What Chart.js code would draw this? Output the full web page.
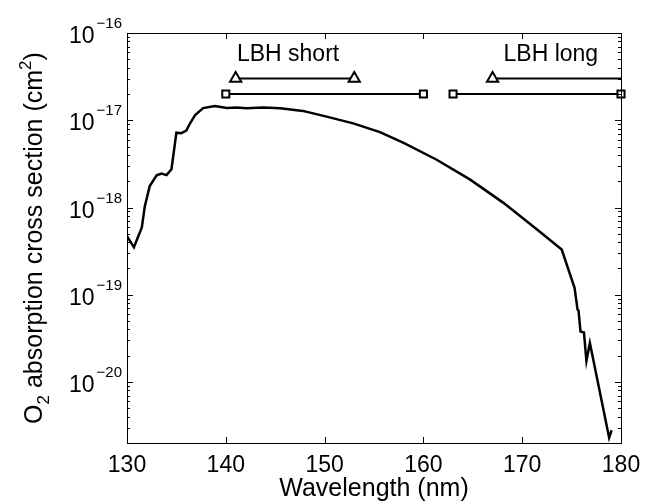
<!DOCTYPE html>
<html>
<head>
<meta charset="utf-8">
<script src="https://cdn.jsdelivr.net/npm/chart.js@4"></script>
<style>
  html, body { margin: 0; padding: 0; background: #fff; }
  canvas { display: block; }
</style>
</head>
<body>
<canvas id="o2Chart" width="655" height="502"></canvas>
<script>
// O2 absorption cross section
const wavelength = [130, 130.7, 131.5, 131.8, 132.3, 133.0, 133.5, 134.0, 134.5, 135.0,
  135.5, 136.0, 136.4, 136.9, 137.7, 138.9, 140.1, 141.1, 142.1, 143.8,
  145.5, 147.8, 150.2, 152.9, 155.6, 158.0, 161.3, 164.7, 168.1, 171.5,
  174.0, 175.3, 175.6, 175.7, 175.9, 176.25, 176.5, 176.85, 178.8, 179.05];
const crossSection = [4.7e-19, 3.5e-19, 5.9e-19, 1.03e-18, 1.76e-18, 2.34e-18, 2.45e-18, 2.35e-18, 2.75e-18, 7.2e-18,
  7.1e-18, 7.6e-18, 9.3e-18, 1.15e-17, 1.38e-17, 1.46e-17, 1.38e-17, 1.40e-17, 1.37e-17, 1.40e-17,
  1.37e-17, 1.28e-17, 1.10e-17, 9.2e-18, 7.3e-18, 5.5e-18, 3.55e-18, 2.1e-18, 1.13e-18, 5.6e-19,
  3.3e-19, 1.2e-19, 6.8e-20, 6.6e-20, 3.8e-20, 3.7e-20, 1.74e-20, 2.8e-20, 2.3e-21, 2.8e-21];

// LBH band ranges (triangles / squares)
const shortTriangles = [141, 153];
const shortSquares = [140, 160];
const longTriangles = [167, 180];
const longSquares = [163, 180];
const triangleLevel = 3e-17;
const squareLevel = 2e-17;
const bandLabels = ["LBH short", "LBH long"];
const bandLabelX = [146.3, 172.9];
const bandLabelY = 5.6e-17;

const xTicks = [130, 140, 150, 160, 170, 180];
const yExponents = [-16, -17, -18, -19, -20];

const FONT = '"Liberation Sans", Arial, Helvetica, sans-serif';

function pts(xs, y) {
  return xs.map(x => ({ x: x, y: y }));
}

// frame, inward ticks and labels drawn Matlab style
const axesPlugin = {
  id: 'matlabAxes',
  afterDraw(chart) {
    const ctx = chart.ctx;
    const a = chart.chartArea;
    const xs = chart.scales.x, ys = chart.scales.y;
    ctx.save();
    ctx.strokeStyle = '#000';
    ctx.lineWidth = 1;
    ctx.strokeRect(a.left + 0.5, a.top + 0.5, a.right - a.left, a.bottom - a.top);

    ctx.beginPath();
    xTicks.forEach(t => {
      const px = Math.round(xs.getPixelForValue(t)) + 0.5;
      ctx.moveTo(px, a.bottom); ctx.lineTo(px, a.bottom - 6);
      ctx.moveTo(px, a.top); ctx.lineTo(px, a.top + 6);
    });
    for (let d = -21; d < -16; d++) {
      for (let m = 1; m < 10; m++) {
        const v = m * Math.pow(10, d);
        if (v < ys.min || v > ys.max) continue;
        const py = Math.round(ys.getPixelForValue(v)) + 0.5;
        const len = m === 1 ? 6 : 3;
        ctx.moveTo(a.left, py); ctx.lineTo(a.left + len, py);
        ctx.moveTo(a.right, py); ctx.lineTo(a.right - len, py);
      }
    }
    ctx.stroke();

    ctx.fillStyle = '#000';
    // x tick labels
    ctx.font = '23px ' + FONT;
    ctx.textAlign = 'center';
    ctx.textBaseline = 'alphabetic';
    xTicks.forEach(t => {
      ctx.fillText(String(t), xs.getPixelForValue(t), a.bottom + 29);
    });

    // y tick labels 10^n
    yExponents.forEach(e => {
      const py = ys.getPixelForValue(Math.pow(10, e));
      ctx.font = '15px ' + FONT;
      const expText = '\u2212' + Math.abs(e);
      const ew = ctx.measureText(expText).width;
      ctx.textAlign = 'left';
      ctx.fillText(expText, a.left - 5 - ew, py - 5);
      ctx.font = '23px ' + FONT;
      ctx.textAlign = 'right';
      ctx.fillText('10', a.left - 7 - ew, py + 10);
    });

    // x title
    ctx.font = '25px ' + FONT;
    ctx.textAlign = 'center';
    ctx.fillText('Wavelength (nm)', (a.left + a.right) / 2, a.bottom + 53);

    // y title, rotated, with sub/superscript
    ctx.save();
    ctx.translate(42, 238);
    ctx.rotate(-Math.PI / 2);
    const parts = [
      ['O', 25, 0], ['2', 17, 7], [' absorption cross section (cm', 25, 0], ['2', 17, -11], [')', 25, 0]
    ];
    let total = 0;
    parts.forEach(p => { ctx.font = p[1] + 'px ' + FONT; total += ctx.measureText(p[0]).width; });
    let cx = -total / 2;
    ctx.textAlign = 'left';
    parts.forEach(p => {
      ctx.font = p[1] + 'px ' + FONT;
      ctx.fillText(p[0], cx, p[2]);
      cx += ctx.measureText(p[0]).width;
    });
    ctx.restore();

    // band labels
    ctx.font = '23px ' + FONT;
    ctx.textAlign = 'center';
    ctx.textBaseline = 'middle';
    bandLabels.forEach((s, i) => {
      ctx.fillText(s, xs.getPixelForValue(bandLabelX[i]), ys.getPixelForValue(bandLabelY));
    });
    ctx.restore();
  }
};

const bandStyle = {
  borderColor: '#000',
  borderWidth: 2,
  pointBorderColor: '#000',
  pointBackgroundColor: '#fff',
  pointBorderWidth: 2,
  tension: 0
};

new Chart(document.getElementById('o2Chart').getContext('2d'), {
  type: 'line',
  data: {
    datasets: [
      {
        label: 'O2',
        data: wavelength.map((w, i) => ({ x: w, y: crossSection[i] })),
        borderColor: '#000',
        borderWidth: 2.5,
        pointRadius: 0,
        tension: 0
      },
      Object.assign({ label: 'short tri', data: pts(shortTriangles, triangleLevel), pointStyle: 'triangle', pointRadius: 6.5 }, bandStyle),
      Object.assign({ label: 'short sq', data: pts(shortSquares, squareLevel), pointStyle: 'rect', pointRadius: 5 }, bandStyle),
      Object.assign({ label: 'long tri', data: pts(longTriangles, triangleLevel), pointStyle: 'triangle', pointRadius: [6.5, 0] }, bandStyle),
      Object.assign({ label: 'long sq', data: pts(longSquares, squareLevel), pointStyle: 'rect', pointRadius: 5, clip: false }, bandStyle)
    ]
  },
  options: {
    responsive: false,
    animation: false,
    layout: { padding: { left: 127, right: 34, top: 33, bottom: 59 } },
    plugins: { legend: { display: false }, tooltip: { enabled: false } },
    scales: {
      x: { type: 'linear', min: 130, max: 180, display: false },
      y: { type: 'logarithmic', min: 2e-21, max: 1e-16, display: false }
    }
  },
  plugins: [axesPlugin]
});
</script>
</body>
</html>
